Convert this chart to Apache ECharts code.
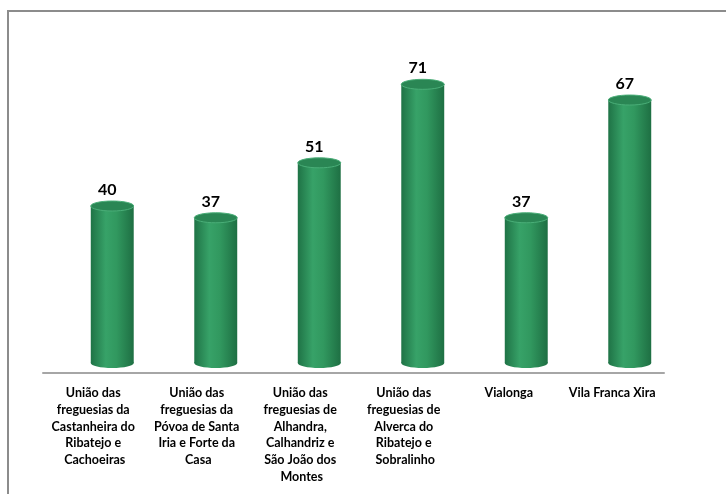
<!DOCTYPE html>
<html lang="pt">
<head>
    <meta charset="UTF-8">
    <title>Freguesias</title>
    <script src="https://cdn.jsdelivr.net/npm/echarts@6.0.0/dist/echarts.min.js"></script>
    <style>
        html, body { margin: 0; padding: 0; background: #fff; }
        #chart { width: 726px; height: 494px; }
    </style>
</head>
<body>
    <div id="chart"></div>
    <script type="text/javascript">
    // data
    const freguesias = [
        'União das freguesias da Castanheira do Ribatejo e Cachoeiras',
        'União das freguesias da Póvoa de Santa Iria e Forte da Casa',
        'União das freguesias de Alhandra, Calhandriz e São João dos Montes',
        'União das freguesias de Alverca do Ribatejo e Sobralinho',
        'Vialonga',
        'Vila Franca Xira'
    ];
    const valores = [40, 37, 51, 71, 37, 67];

    const chart = echarts.init(document.getElementById('chart'));

    // cylinder drawn from the axis scales; shifted right / up like the 3D floor in the original
    function cylinder(params, api) {
        const idx = api.value(0);
        const top = api.coord([idx, api.value(1)]);
        const base = api.coord([idx, 0]);
        const bw = api.size([1, 0])[0] * 0.415;
        const dx = 17.5, lift = 10, ry = 5;
        const cx = top[0] + dx;
        const yTop = top[1] - lift;
        const yBot = base[1] - lift;
        const body = new echarts.graphic.LinearGradient(0, 0, 1, 0, [
            { offset: 0, color: '#1f7346' },
            { offset: 0.35, color: '#37a268' },
            { offset: 0.6, color: '#31985f' },
            { offset: 1, color: '#1e6f43' }
        ]);
        return {
            type: 'group',
            children: [
                { type: 'ellipse', shape: { cx: cx, cy: yBot, rx: bw / 2, ry: ry }, style: { fill: body } },
                { type: 'rect', shape: { x: cx - bw / 2, y: yTop, width: bw, height: yBot - yTop }, style: { fill: body } },
                { type: 'ellipse', shape: { cx: cx, cy: yTop, rx: bw / 2, ry: ry },
                  style: { fill: '#2a8654', stroke: '#4aae78', lineWidth: 1 } },
                { type: 'text', x: cx - 5, y: yTop - ry - 11,
                  style: { text: String(api.value(1)), font: 'bold 16px Lato, "Open Sans", sans-serif',
                           fill: '#000', align: 'center', verticalAlign: 'middle' } }
            ]
        };
    }

    const option = {
        animation: false,
        backgroundColor: '#fff',
        graphic: [
            { type: 'rect', silent: true, shape: { x: 8, y: 11, width: 900, height: 700 },
              style: { fill: 'none', stroke: '#8c8c8c', lineWidth: 2 } }
        ],
        grid: { left: 43, right: 62, top: 59, bottom: 121 },
        xAxis: {
            type: 'category',
            data: freguesias,
            axisLine: { lineStyle: { color: '#a6a6a6', width: 2 } },
            axisTick: { show: false },
            axisLabel: {
                interval: 0,
                margin: 12,
                width: 96,
                overflow: 'break',
                color: '#000',
                fontFamily: 'Lato, "Open Sans", sans-serif',
                fontWeight: 'bold',
                fontSize: 12.5,
                lineHeight: 16.7
            }
        },
        yAxis: { type: 'value', min: 0, max: 80, show: false },
        series: [{
            type: 'custom',
            renderItem: cylinder,
            data: valores.map((v, i) => [i, v]),
            encode: { x: 0, y: 1 }
        }]
    };
    chart.setOption(option);
    </script>
</body>
</html>
